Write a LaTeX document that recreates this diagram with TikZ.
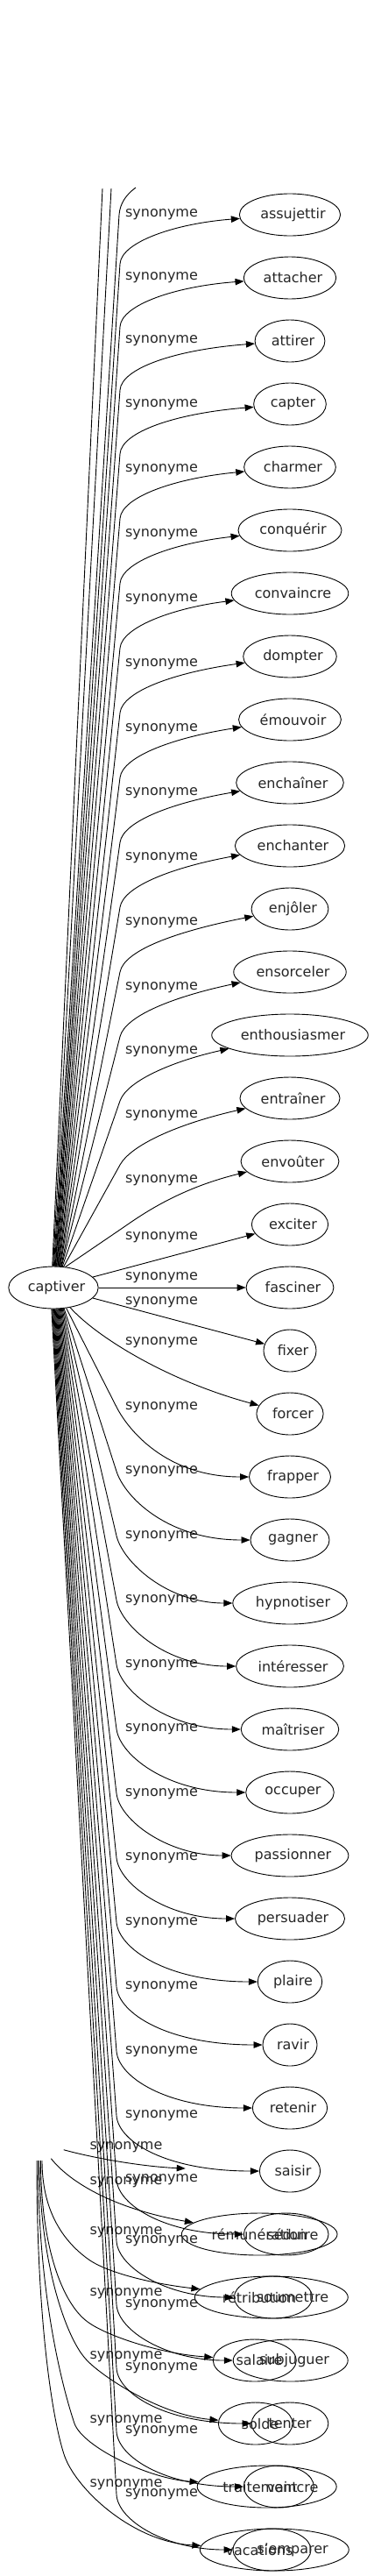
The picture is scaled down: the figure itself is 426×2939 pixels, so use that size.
\documentclass[tikz,border=0pt]{standalone}
\usepackage{fontspec}
\setmainfont{DejaVu Sans}
\usetikzlibrary{arrows.meta,shapes.geometric,calc}
\newlength\wlen
\newcommand\rnode[4]{%
  \settowidth\wlen{\fontsize{16}{19}\selectfont #4}%
  \node[ell, minimum width=1.2\wlen+33pt] (#1) at (#2,#3) {\hspace*{7pt}#4};}
\begin{document}
\begin{tikzpicture}[x=1pt,y=-1pt, font=\fontsize{16}{19}\selectfont,
  ell/.style={draw, ellipse, inner sep=0pt, minimum height=48pt, line width=0.9pt, text=black!85},
  lab/.style={inner sep=0pt, text=black!85},
  edge/.style={line width=0.9pt, -{Triangle[length=10pt,width=7.5pt]}},
  plain/.style={line width=0.9pt}]
\useasboundingbox (0,0) rectangle (426,2939);

% ---------- nodes ----------
\rnode{captiver}{61}{1469}{captiver}
\foreach \t [count=\i from 0] in {assujettir,attacher,attirer,capter,charmer,conquérir,convaincre,dompter,émouvoir,enchaîner,enchanter,enjôler,ensorceler,enthousiasmer,entraîner,envoûter,exciter,fasciner,fixer,forcer,frapper,gagner,hypnotiser,intéresser,maîtriser,occuper,passionner,persuader,plaire,ravir,retenir,saisir}
  {\rnode{n\i}{331}{245+72*\i}{\t}}

% overlapping ellipses (two graphs)
\node[ell, minimum width=177.7pt] (rem) at (296.2,2549) {};
\node[ell, minimum width=96.7pt]  (sed) at (326.7,2549) {};
\node[ell, minimum width=175pt]   (ret) at (309.8,2621) {};
\node[ell, minimum width=89.3pt]  (sou) at (312,2621) {};
\node[ell, minimum width=95pt]    (sal) at (290.8,2693) {};
\node[ell, minimum width=131pt]   (sub) at (331.7,2693) {};
\node[ell, minimum width=84.7pt]  (sol) at (291.7,2765) {};
\node[ell, minimum width=87.7pt]  (ten) at (331,2765) {};
\node[ell, minimum width=159pt]   (tra) at (304.7,2837) {};
\node[ell, minimum width=80pt]    (vai) at (318.3,2837) {};
\node[ell, minimum width=170pt]   (vac) at (313.3,2909) {};
\node[ell, minimum width=89pt]    (sem) at (310.5,2909) {};
\node[lab] (trem) at (296,2549) {rémunération};
\node[lab] (tsed) at (334,2549) {séduire};
\node[lab] (tret) at (296,2621) {rétribution};
\node[lab] (tsou) at (334,2621) {soumettre};
\node[lab] (tsal) at (296,2693) {salaire};
\node[lab] (tsub) at (336,2693) {subjuguer};
\node[lab] (tsol) at (297,2765) {solde};
\node[lab] (tten) at (331,2765) {tenter};
\node[lab] (ttra) at (297,2837) {traitement};
\node[lab] (tvai) at (334,2837) {vaincre};
\node[lab] (tvac) at (296,2909) {vacations};
\node[lab] (tsem) at (334,2909) {s'emparer};

% ---------- edge labels ----------
\foreach \L [count=\i from 0] in {245,316.7,389,461.7,535.6,609.5,683.4,757.3,831.2,905.1,979,1052.9,1126.7,1200,1273,1347,1411.7,1458,1486,1531.7,1605.2,1678.7,1752.2,1825.7,1899.2,1972.7,2046.2,2119.7,2193.2,2266.7,2340.2,2413.7,2486.7,2557,2629.3,2701.7,2774,2846}
  {\node[lab] (l\i) at (184.5,\L) {synonyme};}
\foreach \L [count=\i] in {2450,2489.3,2546.7,2616.7,2689,2761.7,2835}
  {\node[lab] (m\i) at (144,\L) {synonyme};}

% ---------- edges going up ----------
\coordinate (ta) at (117,215);
\coordinate (tb) at (127,215);
\coordinate (tc) at (155,214);
\draw[plain] (captiver.93) -- (ta);
\draw[plain] (captiver.91) -- (tb);
\draw[plain] (captiver.89) -- (136,245) .. controls (137,232) and (144,222) .. (tc);

\foreach \i/\L/\a in {0/245/87,1/316.7/85.5,2/389/84,3/461.7/82.5,4/535.6/81,5/609.5/79.5,6/683.4/78,7/757.3/76.5,8/831.2/75,9/905.1/73.5,10/979/72,11/1052.9/70.5,12/1126.7/69,13/1200/67,14/1273/64,15/1347/60}{
  \pgfmathsetmacro\py{\L+56}
  \pgfmathsetmacro\cy{\L+10}
  \draw[edge] (captiver.\a) -- (137,\py) .. controls ($(137,\py)!-25pt!(captiver.\a)$) and (200,\cy) .. (n\i);
}

% ---------- nearly straight edges ----------
\draw[edge] (captiver) -- (n16);
\draw[edge] (captiver) -- (n17);
\draw[edge] (captiver) -- (n18);
\draw[edge] (captiver.-50) .. controls (110,1525) and (190,1575) .. (n19);

% ---------- edges going down ----------
\foreach \t/\L/\T/\a in {n20/1605.2/1685/-58,n21/1678.7/1757/-63,n22/1752.2/1829/-65,n23/1825.7/1901/-67,n24/1899.2/1973/-69,n25/1972.7/2045/-71,n26/2046.2/2117/-73,n27/2119.7/2189/-75,n28/2193.2/2261/-77,n29/2266.7/2333/-79,n30/2340.2/2405/-81,n31/2413.7/2477/-83,sed/2486.7/2549/-85,sou/2557/2621/-87,sub/2629.3/2693/-89,ten/2701.7/2765/-91,vai/2774/2837/-93,sem/2846/2909/-95}{
  \draw[edge] (captiver.\a) -- (133,\L) .. controls ($(133,\L)!-30pt!(captiver.\a)$) and (190,\T) .. (\t);
}

% ---------- second graph ----------
\coordinate (s0) at (72.7,2452.7);
\coordinate (s1) at (58.3,2462.7);
\coordinate (s2) at (48,2465);
\coordinate (s3) at (46.5,2465);
\coordinate (s4) at (45,2465);
\coordinate (s5) at (43.5,2465);
\coordinate (s6) at (42,2465);
\coordinate (e0) at (211.7,2474);
\draw[edge] (s0) .. controls (110,2463) and (165,2472) .. (e0);
\draw[edge] (s1) .. controls (80,2490) and (130,2520) .. (rem);
\draw[edge] (s2) .. controls (48,2520) and (70,2555) .. (100,2577) .. controls (120,2592) and (170,2605) .. (ret);
\draw[edge] (s3) .. controls (46.5,2560) and (70,2627) .. (100,2649) .. controls (120,2664) and (180,2685) .. (sal);
\draw[edge] (s4) .. controls (45,2580) and (75,2665) .. (96.7,2690) .. controls (110,2707) and (180,2755) .. (sol);
\draw[edge] (s5) .. controls (43.5,2615) and (70,2720) .. (85,2765) .. controls (95,2792) and (170,2828) .. (tra);
\draw[edge] (s6) .. controls (42,2650) and (60,2760) .. (73,2800) .. controls (85,2838) and (150,2900) .. (vac);
\end{tikzpicture}
\end{document}
